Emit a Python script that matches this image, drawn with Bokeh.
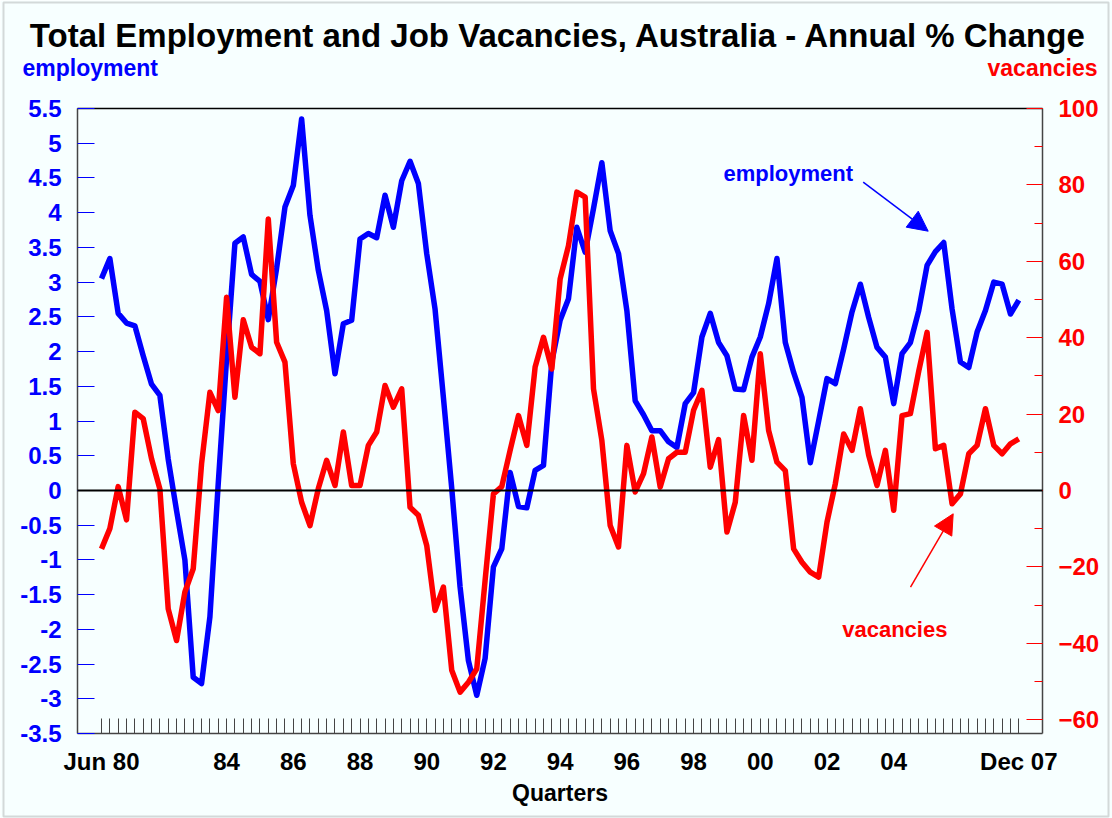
from bokeh.plotting import figure
from bokeh.models import (Range1d, LinearAxis, FixedTicker, CustomJSTickFormatter,
                          Label, Arrow, NormalHead, BoxAnnotation)
from bokeh.embed import file_html
from bokeh.resources import INLINE

# ---------------- data (annual % change, quarterly Jun 1980 .. Dec 2007) -------------
employment = [
    3.05, 3.34, 2.55, 2.41, 2.37, 1.94, 1.53, 1.37, 0.45, -0.29,
    -1.00, -2.69, -2.78, -1.82, 0.10, 1.90, 3.56, 3.65, 3.11, 3.01,
    2.46, 3.20, 4.08, 4.39, 5.35, 3.96, 3.17, 2.59, 1.68, 2.40,
    2.45, 3.62, 3.70, 3.64, 4.25, 3.79, 4.46, 4.74, 4.42, 3.41,
    2.61, 1.34, 0.03, -1.39, -2.45, -2.95, -2.42, -1.10, -0.84, 0.26,
    -0.23, -0.25, 0.29, 0.36, 1.85, 2.45, 2.76, 3.79, 3.43, 4.06,
    4.72, 3.74, 3.41, 2.59, 1.29, 1.09, 0.86, 0.86, 0.70, 0.62,
    1.25, 1.41, 2.21, 2.55, 2.13, 1.94, 1.46, 1.45, 1.92, 2.21,
    2.69, 3.34, 2.13, 1.70, 1.34, 0.40, 1.00, 1.61, 1.54, 2.04,
    2.57, 2.97, 2.49, 2.06, 1.92, 1.25, 1.97, 2.13, 2.59, 3.24,
    3.44, 3.57, 2.61, 1.85, 1.77, 2.28, 2.59, 3.00, 2.97, 2.54,
    2.74,
]
vacancies = [
    -15.3, -10.0, 1.0, -7.7, 20.5, 18.8, 8.3, 0.4, -31.0, -39.3,
    -26.6, -20.5, 7.0, 25.7, 20.9, 50.6, 24.4, 44.7, 37.5, 35.8,
    71.1, 38.8, 33.6, 7.0, -3.1, -9.2, 0.5, 7.9, 1.3, 15.3,
    1.3, 1.3, 11.8, 15.3, 27.5, 21.8, 26.6, -4.4, -6.5, -14.4,
    -31.4, -25.3, -47.1, -52.8, -50.2, -46.7, -23.6, -0.9, 1.0, 10.5,
    19.6, 11.8, 32.3, 40.1, 31.8, 55.4, 64.1, 78.1, 76.8, 26.6,
    13.1, -9.2, -14.8, 11.8, -0.4, 4.4, 14.0, 0.9, 8.3, 10.0,
    10.0, 21.0, 26.2, 6.1, 13.3, -10.9, -3.1, 19.6, 7.9, 35.8,
    15.7, 7.4, 5.2, -15.3, -18.8, -21.4, -22.7, -8.3, 1.8, 14.8,
    10.5, 21.4, 9.2, 1.3, 10.5, -5.2, 19.6, 20.1, 31.2, 41.4,
    10.9, 11.8, -3.5, -0.9, 9.6, 11.8, 21.4, 11.8, 9.6, 12.2,
    13.5,
]
quarter_index = list(range(len(employment)))
tick_quarters = [0, 15, 23, 31, 39, 47, 55, 63, 71, 79, 87, 95, 110]
tick_labels = ["Jun 80", "84", "86", "88", "90", "92", "94", "96", "98",
               "00", "02", "04", "Dec 07"]
emp_ticks = [-3.5, -3, -2.5, -2, -1.5, -1, -0.5, 0, 0.5, 1, 1.5, 2, 2.5,
             3, 3.5, 4, 4.5, 5, 5.5]
vac_ticks = [-60, -40, -20, 0, 20, 40, 60, 80, 100]
vac_minor = [-60, -50, -40, -30, -20, -10, 0, 10, 20, 30, 40, 50, 60, 70, 80, 90, 100]
EMP_LO, EMP_HI = -3.5, 5.5
VAC_HI = 100

title_text = "Total Employment and Job Vacancies, Australia - Annual % Change"

# ---------------- layout (pixels of the 1112x818 page) ----------------
W, H = 1112, 818
BOX_L, BOX_R, BOX_T, BOX_B = 77, 1042, 108, 733     # plot box
Q_FIRST, Q_LAST = 101, 1018.3                       # first / last quarter

dx = (Q_LAST - Q_FIRST) / (len(quarter_index) - 1)
dy = (BOX_B - BOX_T) / (EMP_HI - EMP_LO)
zero_px = BOX_T + EMP_HI * dy
dv = (zero_px - BOX_T) / VAC_HI

def px2x(px):
    return (px - Q_FIRST) / dx

def py2y(py):
    return (zero_px - py) / dy

def py2v(py):
    return (zero_px - py) / dv

box_xlo, box_xhi = px2x(BOX_L), px2x(BOX_R)
vac_lo = py2v(BOX_B)

# ---------------- styling ----------------
FONT = "Liberation Sans"
BG = "#F7FFFF"
BLUE = "#0000FF"
RED = "#FF0000"
AXIS_GREY = "#444444"

p = figure(width=W, height=H, output_backend="svg", toolbar_location=None,
           title=None,
           x_range=Range1d(px2x(0), px2x(W)), y_range=Range1d(py2y(H), py2y(0)),
           min_border_left=0, min_border_right=0, min_border_top=0,
           min_border_bottom=0,
           background_fill_color=BG, border_fill_color=BG)
p.xgrid.visible = False
p.ygrid.visible = False
p.outline_line_color = None
p.extra_y_ranges = {"vac": Range1d(py2v(H), py2v(0))}

# thin grey border round the whole chart
p.add_layout(BoxAnnotation(left=px2x(3), right=px2x(1108), top=py2y(2), bottom=py2y(816),
                           fill_alpha=0, line_color="#808080", line_width=2,
                           level="underlay"))

def style_labels(ax, color, size="24px"):
    ax.major_label_text_color = color
    ax.major_label_text_font = FONT
    ax.major_label_text_font_style = "bold"
    ax.major_label_text_font_size = size

# left axis (employment)
ya = p.yaxis[0]
ya.fixed_location = box_xlo
ya.bounds = (EMP_LO, EMP_HI)
ya.ticker = FixedTicker(ticks=emp_ticks, minor_ticks=[])
ya.formatter = CustomJSTickFormatter(code="return String(tick);")
ya.major_tick_in = 17
ya.major_tick_out = 0
ya.major_tick_line_color = BLUE
ya.minor_tick_line_color = None
ya.axis_line_color = AXIS_GREY
ya.axis_line_width = 1.5
ya.major_label_standoff = 16
style_labels(ya, BLUE)

# right axis (vacancies)
ra = LinearAxis(y_range_name="vac", fixed_location=box_xhi, bounds=(vac_lo, VAC_HI),
                ticker=FixedTicker(ticks=vac_ticks, minor_ticks=vac_minor))
ra.major_tick_in = 16
ra.major_tick_out = 0
ra.minor_tick_in = 8
ra.minor_tick_out = 0
ra.major_tick_line_color = RED
ra.minor_tick_line_color = RED
ra.axis_line_color = AXIS_GREY
ra.axis_line_width = 1.5
ra.major_label_standoff = 16
style_labels(ra, RED)
p.add_layout(ra, "right")

# bottom axis (quarters)
xa = p.xaxis[0]
xa.fixed_location = EMP_LO
xa.bounds = (box_xlo, box_xhi)
xa.ticker = FixedTicker(ticks=quarter_index, minor_ticks=[])
overrides = {i: "" for i in quarter_index}
for q, lab in zip(tick_quarters, tick_labels):
    overrides[q] = lab
xa.major_label_overrides = overrides
xa.major_tick_in = 15
xa.major_tick_out = 0
xa.major_tick_line_color = AXIS_GREY
xa.minor_tick_line_color = None
xa.axis_line_color = AXIS_GREY
xa.axis_line_width = 1.5
xa.major_label_standoff = 14
style_labels(xa, "black")
xa.axis_label = "Quarters"
xa.axis_label_text_font = FONT
xa.axis_label_text_font_style = "bold"
xa.axis_label_text_font_size = "23px"
xa.axis_label_text_color = "black"
xa.axis_label_standoff = 2

# top edge of the plot box
ta = LinearAxis(fixed_location=EMP_HI, bounds=(box_xlo, box_xhi),
                ticker=FixedTicker(ticks=[], minor_ticks=[]))
ta.axis_line_color = "black"
ta.axis_line_width = 1.5
ta.major_tick_line_color = None
ta.minor_tick_line_color = None
p.add_layout(ta, "above")

# series
p.line(quarter_index, employment, line_color=BLUE, line_width=5.5, line_join="round")
p.line(quarter_index, vacancies, line_color=RED, line_width=5.5, line_join="round",
       y_range_name="vac")

# zero line across the plot box
p.segment(x0=[box_xlo], y0=[0], x1=[box_xhi], y1=[0], line_color="black", line_width=2,
          level="overlay")

# annotations
p.add_layout(Arrow(end=NormalHead(size=20, fill_color=BLUE, line_color=BLUE),
                   x_start=px2x(862.7), y_start=py2y(181.7),
                   x_end=px2x(927.7), y_end=py2y(230.7),
                   line_color=BLUE, line_width=1.5))
p.add_layout(Arrow(end=NormalHead(size=20, fill_color=RED, line_color=RED),
                   x_start=px2x(910), y_start=py2y(586.7),
                   x_end=px2x(952.7), y_end=py2y(513.3),
                   line_color=RED, line_width=1.5))

def txt(px, py, text, color, size, align="left"):
    p.add_layout(Label(x=px2x(px), y=py2y(py), text=text, text_color=color,
                       text_font=FONT, text_font_style="bold", text_font_size=size,
                       text_align=align, text_baseline="middle"))

txt(558, 35, title_text, "black", "33px", align="center")
txt(22, 67, "employment", BLUE, "23px")
txt(1097, 67, "vacancies", RED, "23px", align="right")
txt(723, 172.7, "employment", BLUE, "22px")
txt(841.7, 628.7, "vacancies", RED, "22px")

open("out.html", "w").write(file_html(p, INLINE))
